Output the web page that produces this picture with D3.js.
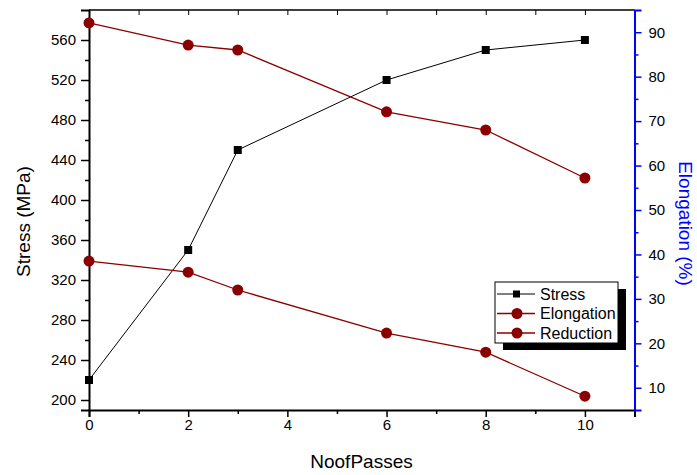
<!DOCTYPE html>
<html>
<head>
<meta charset="utf-8">
<script src="https://cdn.jsdelivr.net/npm/d3@7"></script>
<style>
  body { margin: 0; background: #fff; }
  svg { font-family: "Liberation Sans", Arial, sans-serif; }
</style>
</head>
<body>
<svg id="chart" width="697" height="475"></svg>
<script>
// data
const passes = [0, 2, 3, 6, 8, 10];
const stress = [220, 350, 450, 520, 550, 560];
const elongation = [38.5, 36.0, 32.0, 22.3, 18.0, 8.1];
const reduction = [92.1, 87.1, 86.0, 72.1, 68.0, 57.2];

const xTicks = [0, 2, 4, 6, 8, 10];
const yLeftTicks = [200, 240, 280, 320, 360, 400, 440, 480, 520, 560];
const yRightTicks = [10, 20, 30, 40, 50, 60, 70, 80, 90];

const seriesNames = ['Stress', 'Elongation', 'Reduction'];

const svg = d3.select('#chart');
const plotLeft = 89, plotRight = 634.5, plotTop = 10, plotBottom = 410;
const darkRed = '#8b0000';
const blue = '#0000ff';
const tickFont = 15;

let x = d3.scaleLinear().domain([0, 11]).range([plotLeft, plotRight]);
let yL = d3.scaleLinear().domain([190, 590]).range([plotBottom, plotTop]);
let yR = d3.scaleLinear().domain([5, 95]).range([plotBottom, plotTop]);

// frame top
svg.append('line')
    .attr('x1', plotLeft).attr('x2', plotRight)
    .attr('y1', plotTop).attr('y2', plotTop)
    .attr('stroke', '#000')
    .attr('stroke-width', 1.5);

// top ticks (inward, every pass)
svg.append('g')
    .attr('transform', `translate(0,${plotTop})`)
    .call(d3.axisBottom(x).ticks(11).tickSize(5).tickFormat(''))
    .call(g => g.select('.domain').remove());

// bottom axis
let xAxis = svg.append('g')
    .attr('transform', `translate(0,${plotBottom})`)
    .call(d3.axisBottom(x).tickValues(xTicks).tickSize(7).tickPadding(2).tickFormat(d3.format('d')));
xAxis.select('.domain').attr('stroke-width', 2);
xAxis.selectAll('.tick line').attr('stroke-width', 1.5);
xAxis.selectAll('text').attr('font-size', tickFont).attr('font-family', 'Liberation Sans, Arial');
svg.append('g')
    .attr('transform', `translate(0,${plotBottom})`)
    .call(d3.axisBottom(x).tickValues([1, 3, 5, 7, 9]).tickSize(4).tickFormat(''))
    .call(g => g.select('.domain').remove())
    .selectAll('line').attr('stroke-width', 1.5);

// left axis
let yAxis = svg.append('g')
    .attr('transform', `translate(${plotLeft},0)`)
    .call(d3.axisLeft(yL).tickValues(yLeftTicks).tickSize(8).tickPadding(5));
yAxis.select('.domain').attr('stroke-width', 2);
yAxis.selectAll('.tick line').attr('stroke-width', 1.5);
yAxis.selectAll('text').attr('font-size', tickFont).attr('font-family', 'Liberation Sans, Arial');
svg.append('g')
    .attr('transform', `translate(${plotLeft},0)`)
    .call(d3.axisLeft(yL).tickValues(d3.range(220, 590, 40)).tickSize(4).tickFormat(''))
    .call(g => g.select('.domain').remove())
    .selectAll('line').attr('stroke-width', 1.5);

// right axis (blue)
let yAxisR = svg.append('g')
    .attr('transform', `translate(${plotRight},0)`)
    .call(d3.axisRight(yR).tickValues(yRightTicks).tickSize(7).tickPadding(7));
yAxisR.select('.domain').attr('stroke', blue).attr('stroke-width', 2);
yAxisR.selectAll('.tick line').attr('stroke', blue).attr('stroke-width', 1.5);
yAxisR.selectAll('text').attr('font-size', tickFont).attr('fill', '#000').attr('font-family', 'Liberation Sans, Arial');
svg.append('g')
    .attr('transform', `translate(${plotRight},0)`)
    .call(d3.axisRight(yR).tickValues(d3.range(15, 95, 10)).tickSize(4).tickFormat(''))
    .call(g => g.select('.domain').remove())
    .selectAll('line').attr('stroke', blue).attr('stroke-width', 1.5);

// axis titles
svg.append('text')
    .attr('transform', `translate(30,221.5) rotate(-90)`)
    .attr('text-anchor', 'middle')
    .attr('font-size', 19)
    .text('Stress (MPa)');

svg.append('text')
    .attr('transform', `translate(679,223.5) rotate(90)`)
    .attr('text-anchor', 'middle')
    .attr('font-size', 19)
    .attr('fill', blue)
    .text('Elongation (%)');

svg.append('text')
    .attr('x', 361.5)
    .attr('y', 468)
    .attr('text-anchor', 'middle')
    .attr('font-size', 19)
    .text('NoofPasses');

// series
function drawSeries(values, yScale, color, width, marker)
{
  let pts = passes.map((p, i) => [x(p), yScale(values[i])]);
  svg.append('path')
      .attr('d', d3.line()(pts))
      .attr('fill', 'none')
      .attr('stroke', color)
      .attr('stroke-width', width);
  let g = svg.append('g');
  if (marker === 'square')
  {
    g.selectAll('rect').data(pts).join('rect')
        .attr('x', d => d[0] - 4).attr('y', d => d[1] - 4)
        .attr('width', 8).attr('height', 8)
        .attr('fill', color);
  }
  else
  {
    g.selectAll('circle').data(pts).join('circle')
        .attr('cx', d => d[0]).attr('cy', d => d[1])
        .attr('r', 5.5)
        .attr('fill', color);
  }
}

drawSeries(stress, yL, '#000', 1, 'square');
drawSeries(elongation, yR, darkRed, 1.3, 'circle');
drawSeries(reduction, yR, darkRed, 1.3, 'circle');

// legend
const lx = 495, ly = 282, lw = 123, lh = 61;
svg.append('rect')
    .attr('x', lx + 8).attr('y', ly + 7)
    .attr('width', lw).attr('height', lh)
    .attr('fill', '#000');
svg.append('rect')
    .attr('x', lx).attr('y', ly)
    .attr('width', lw).attr('height', lh)
    .attr('fill', '#fff')
    .attr('stroke', '#000')
    .attr('stroke-width', 1);

const legendStyles = [
  { color: '#000', marker: 'square', width: 1 },
  { color: darkRed, marker: 'circle', width: 1.3 },
  { color: darkRed, marker: 'circle', width: 1.3 },
];

seriesNames.forEach((name, i) => {
  let cy = ly + 12 + i * 19.5;
  let st = legendStyles[i];
  svg.append('line')
      .attr('x1', lx + 2).attr('x2', lx + 40)
      .attr('y1', cy).attr('y2', cy)
      .attr('stroke', st.color)
      .attr('stroke-width', st.width);
  if (st.marker === 'square')
  {
    svg.append('rect')
        .attr('x', lx + 18).attr('y', cy - 3.5)
        .attr('width', 7).attr('height', 7)
        .attr('fill', st.color);
  }
  else
  {
    svg.append('circle')
        .attr('cx', lx + 22).attr('cy', cy)
        .attr('r', 5.5)
        .attr('fill', st.color);
  }
  svg.append('text')
      .attr('x', lx + 45).attr('y', cy + 5.5)
      .attr('font-size', 16)
      .text(name);
});
</script>
</body>
</html>
